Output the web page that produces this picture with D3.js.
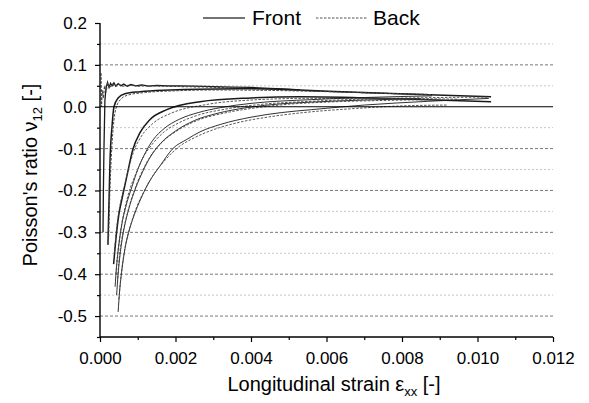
<!DOCTYPE html>
<html><head><meta charset="utf-8">
<script src="https://cdn.jsdelivr.net/npm/d3@7"></script>
<style>body{margin:0;background:#fff}svg{display:block}text{font-family:"Liberation Sans",Arial,sans-serif;fill:#000}</style>
</head><body><svg id="c" width="589" height="403"></svg>
<script>
// ---- data (strain εxx, Poisson's ratio ν12) ----
const xTicks = [0, 0.002, 0.004, 0.006, 0.008, 0.010, 0.012];
const xTickLabels = ["0.000","0.002","0.004","0.006","0.008","0.010","0.012"];
const yTicks = [0.2, 0.1, 0.0, -0.1, -0.2, -0.3, -0.4, -0.5];
const yTickLabels = ["0.2","0.1","0.0","-0.1","-0.2","-0.3","-0.4","-0.5"];
const yMinorGrid = [0.15, 0.05, -0.05, -0.15, -0.25, -0.35, -0.45];
const yMajorGrid = [0.1, -0.1, -0.2, -0.3, -0.4, -0.5];

const aFrontX = [0.00008,0.00009,0.000105,0.00012,0.00013,0.00016,0.0002,0.00024,0.00028,0.00032,0.00037,0.00042,0.00048,0.00055,0.00063,0.00072,0.00082,0.00095,0.0011,0.0013,0.0015,0.0018,0.0021,0.0025,0.003,0.0035,0.004,0.0045,0.005,0.0053];
const aFrontY = [-0.30,-0.20,-0.10,-0.03,0.015,0.045,0.058,0.046,0.056,0.050,0.057,0.049,0.055,0.050,0.054,0.049,0.053,0.050,0.052,0.049,0.051,0.050,0.050,0.049,0.048,0.047,0.046,0.044,0.042,0.040];
const aBackX = [0.00003,0.00004,0.00006,0.00009,0.00012,0.00016,0.0002,0.00026,0.00033,0.0004,0.0005,0.0006,0.0008,0.001,0.0013,0.0017,0.0022,0.0028,0.0035,0.0045,0.0055,0.0065,0.0075,0.0088];
const aBackY = [0.08,0.0,0.04,0.02,0.05,0.035,0.055,0.045,0.055,0.048,0.054,0.049,0.052,0.049,0.050,0.049,0.048,0.047,0.045,0.042,0.038,0.035,0.032,0.029];

const bFrontX = [0.00021,0.00024,0.000265,0.00032,0.00037,0.00048,0.00066,0.00106,0.00185,0.0026,0.004,0.0053,0.0066,0.0085,0.01036];
const bFrontY = [-0.33,-0.22,-0.13,-0.045,0.0,0.021,0.031,0.036,0.040,0.042,0.043,0.040,0.035,0.029,0.024];
const bBackX = [0.00023,0.00026,0.0003,0.00035,0.00042,0.00055,0.00075,0.0012,0.002,0.003,0.0045,0.006,0.0075,0.0088];
const bBackY = [-0.31,-0.21,-0.12,-0.05,-0.005,0.018,0.028,0.034,0.038,0.040,0.039,0.036,0.032,0.029];

const cFrontX = [0.00036,0.00042,0.0005,0.00058,0.00072,0.00087,0.00106,0.00132,0.00177,0.00265,0.004,0.0053,0.0079,0.01036];
const cFrontY = [-0.376,-0.317,-0.257,-0.221,-0.162,-0.102,-0.062,-0.031,-0.007,0.012,0.021,0.024,0.019,0.012];
const cBackX = [0.00038,0.00044,0.00052,0.00062,0.00075,0.0009,0.0011,0.0014,0.0019,0.0028,0.004,0.0055,0.0075,0.0095];
const cBackY = [-0.35,-0.29,-0.24,-0.20,-0.15,-0.105,-0.07,-0.04,-0.015,0.005,0.016,0.020,0.020,0.018];

const dFrontX = [0.0004,0.00044,0.0005,0.00058,0.00068,0.00085,0.001,0.0012,0.0014,0.0017,0.0021,0.0026,0.0032,0.004,0.0056,0.007,0.0088];
const dFrontY = [-0.43,-0.38,-0.33,-0.28,-0.24,-0.19,-0.15,-0.11,-0.08,-0.052,-0.03,-0.014,-0.002,0.008,0.017,0.022,0.026];
const dBackX = [0.00042,0.00047,0.00054,0.00064,0.00078,0.00095,0.00115,0.00138,0.0017,0.0021,0.0026,0.0033,0.0042,0.0056,0.0072,0.009,0.0103];
const dBackY = [-0.40,-0.35,-0.30,-0.25,-0.20,-0.16,-0.12,-0.09,-0.06,-0.038,-0.02,-0.006,0.005,0.013,0.019,0.022,0.023];

const gFrontX = [0.00044,0.00048,0.00055,0.00064,0.00076,0.0009,0.00108,0.0013,0.0016,0.002,0.0025,0.0031,0.0039,0.0048,0.0056,0.007,0.0085];
const gFrontY = [-0.45,-0.40,-0.34,-0.29,-0.245,-0.205,-0.165,-0.125,-0.088,-0.058,-0.033,-0.016,-0.002,0.007,0.011,0.016,0.019];
const gBackX = [0.00046,0.0005,0.00057,0.00067,0.0008,0.00095,0.00113,0.00136,0.00168,0.0021,0.0026,0.0033,0.0041,0.005,0.006,0.0075,0.009];
const gBackY = [-0.42,-0.37,-0.32,-0.275,-0.23,-0.19,-0.152,-0.115,-0.082,-0.054,-0.032,-0.015,-0.003,0.006,0.011,0.015,0.017];

const eFrontX = [0.00048,0.00052,0.00058,0.00066,0.00076,0.0009,0.00108,0.0013,0.0016,0.00193,0.0023,0.00265,0.0032,0.004,0.0048,0.0056,0.007,0.0087,0.0103];
const eFrontY = [-0.49,-0.44,-0.39,-0.34,-0.30,-0.26,-0.22,-0.18,-0.14,-0.10,-0.078,-0.06,-0.042,-0.025,-0.014,-0.007,0.004,0.013,0.02];
const eBackX = [0.0005,0.00055,0.00062,0.0007,0.00082,0.00097,0.00115,0.0014,0.0017,0.0021,0.0025,0.003,0.0037,0.0045,0.0055,0.0068,0.008,0.0092];
const eBackY = [-0.46,-0.41,-0.36,-0.32,-0.28,-0.24,-0.205,-0.165,-0.13,-0.095,-0.074,-0.055,-0.037,-0.024,-0.013,-0.004,0.002,0.004];

const series = [
  {x:aFrontX,y:aFrontY,type:"front",w:1.3,curve:"lin"},
  {x:aBackX,y:aBackY,type:"back",w:1.1,curve:"lin"},
  {x:bFrontX,y:bFrontY,type:"front",w:1.5,curve:"mono"},
  {x:bBackX,y:bBackY,type:"back",w:1.0,curve:"mono"},
  {x:cFrontX,y:cFrontY,type:"front",w:1.5,curve:"mono"},
  {x:cBackX,y:cBackY,type:"back",w:0.9,curve:"mono"},
  {x:dFrontX,y:dFrontY,type:"front",w:0.9,curve:"mono"},
  {x:dBackX,y:dBackY,type:"back",w:0.9,curve:"mono"},
  {x:gFrontX,y:gFrontY,type:"front",w:0.9,curve:"mono"},
  {x:gBackX,y:gBackY,type:"back",w:0.9,curve:"mono"},
  {x:eFrontX,y:eFrontY,type:"front",w:0.9,curve:"mono"},
  {x:eBackX,y:eBackY,type:"back",w:0.9,curve:"mono"}
];

// ---- drawing ----
const svg = d3.select("#c");
const x = d3.scaleLinear().domain([0,0.012]).range([100,553]);
const y = d3.scaleLinear().domain([-0.55,0.2]).range([337,23]);

// grid
svg.append("g").selectAll("line").data(yMinorGrid).join("line")
  .attr("x1",x(0)).attr("x2",x(0.012)).attr("y1",d=>y(d)).attr("y2",d=>y(d))
  .attr("stroke","#b8b8b8").attr("stroke-width",0.8).attr("stroke-dasharray","2,2");
svg.append("g").selectAll("line").data(yMajorGrid).join("line")
  .attr("x1",x(0)).attr("x2",x(0.012)).attr("y1",d=>y(d)).attr("y2",d=>y(d))
  .attr("stroke","#555").attr("stroke-width",0.8).attr("stroke-dasharray","3,2");

// curves
svg.append("clipPath").attr("id","pc").append("rect")
  .attr("x",x(0)).attr("y",y(0.2)).attr("width",x(0.012)-x(0)).attr("height",y(-0.55)-y(0.2));
const gC = svg.append("g").attr("clip-path","url(#pc)");
series.forEach(s=>{
  const pts = s.x.map((v,i)=>[v,s.y[i]]);
  const line = d3.line().x(d=>x(d[0])).y(d=>y(d[1]))
    .curve(s.curve==="lin"?d3.curveLinear:d3.curveMonotoneX);
  gC.append("path").attr("d",line(pts)).attr("fill","none")
    .attr("stroke", s.type==="front" ? "#1a1a1a" : "#444")
    .attr("stroke-width", s.w)
    .attr("stroke-dasharray", s.type==="front" ? null : "2.5,1.5");
});

// zero line
svg.append("line").attr("x1",x(0)).attr("x2",x(0.012)).attr("y1",y(0)).attr("y2",y(0))
  .attr("stroke","#000").attr("stroke-width",1.1);

// axes
const yAx = svg.append("g").attr("transform",`translate(${x(0)},0)`)
  .call(d3.axisLeft(y).tickValues(yTicks).tickFormat((d,i)=>yTickLabels[i]).tickSize(5).tickPadding(8));
const yMin = svg.append("g").attr("transform",`translate(${x(0)},0)`)
  .call(d3.axisLeft(y).tickValues(yMinorGrid.concat([-0.55])).tickFormat("").tickSize(3));
const xAx = svg.append("g").attr("transform",`translate(0,${y(-0.55)})`)
  .call(d3.axisBottom(x).tickValues(xTicks).tickFormat((d,i)=>xTickLabels[i]).tickSize(5).tickPadding(10));
const xMin = svg.append("g").attr("transform",`translate(0,${y(-0.55)})`)
  .call(d3.axisBottom(x).tickValues([0.001,0.003,0.005,0.007,0.009,0.011]).tickFormat("").tickSize(3));
[yAx,yMin,xAx,xMin].forEach(g=>{
  g.select(".domain").attr("stroke","#000").attr("stroke-width",1.4);
  g.selectAll(".tick line").attr("stroke","#000").attr("stroke-width",1.2);
  g.selectAll("text").style("font-size","17px").attr("fill","#000").style("font-family","Liberation Sans, Arial, sans-serif");
});
yMin.select(".domain").remove(); xMin.select(".domain").remove();
yAx.select(".domain").attr("d",`M0,${y(0.2)}V${y(-0.55)}`);
xAx.select(".domain").attr("d",`M${x(0)},0H${x(0.012)}`);

// axis titles
const xt = svg.append("text").attr("x",334).attr("y",391).attr("text-anchor","middle").style("font-size","20px");
xt.append("tspan").text("Longitudinal strain ε");
xt.append("tspan").text("xx").style("font-size","13px").attr("dy",5);
xt.append("tspan").text(" [-]").attr("dy",-5);

const yt = svg.append("text").attr("transform","translate(37,175) rotate(-90)").attr("text-anchor","middle").style("font-size","20px");
yt.append("tspan").text("Poisson's ratio ν");
yt.append("tspan").text("12").style("font-size","13px").attr("dy",5);
yt.append("tspan").text(" [-]").attr("dy",-5);

// legend
svg.append("line").attr("x1",203).attr("x2",245).attr("y1",18).attr("y2",18).attr("stroke","#444").attr("stroke-width",1.3);
svg.append("text").attr("x",252).attr("y",25).style("font-size","21px").text("Front");
svg.append("line").attr("x1",316).attr("x2",367).attr("y1",18).attr("y2",18).attr("stroke","#555").attr("stroke-width",1).attr("stroke-dasharray","2.5,1.5");
svg.append("text").attr("x",373).attr("y",25).style("font-size","21px").text("Back");
</script></body></html>
